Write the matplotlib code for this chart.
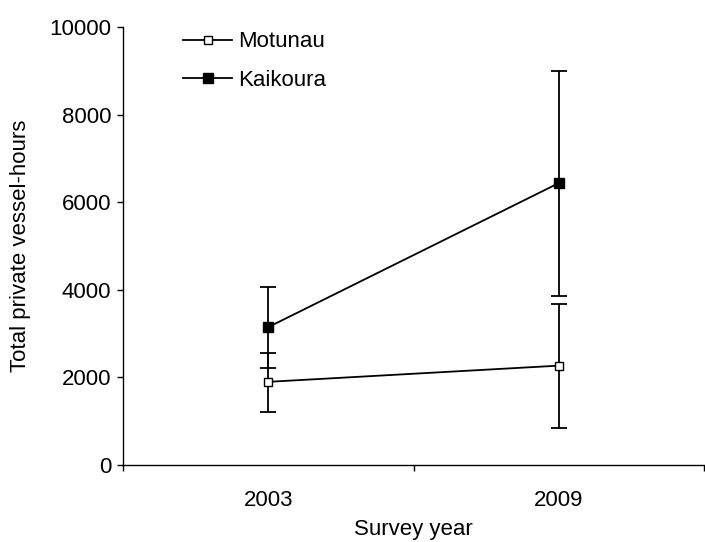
import matplotlib
matplotlib.use('Agg')
import matplotlib.pyplot as plt

plt.rcParams['font.family'] = ['Liberation Sans', 'DejaVu Sans']

years = ['2003', '2009']
motunau = [1900, 2270]
motunau_lo = [1210, 845]
motunau_hi = [2550, 3670]
kaikoura = [3150, 6440]
kaikoura_lo = [2210, 3860]
kaikoura_hi = [4065, 9000]

x = [1, 2]

fig = plt.figure(figsize=(7.05, 5.42), dpi=100)
ax = fig.add_axes([0.1745, 0.142, 0.8245, 0.808])

m_err = [[m - lo for m, lo in zip(motunau, motunau_lo)],
         [hi - m for m, hi in zip(motunau, motunau_hi)]]
k_err = [[k - lo for k, lo in zip(kaikoura, kaikoura_lo)],
         [hi - k for k, hi in zip(kaikoura, kaikoura_hi)]]

# error bars first, lines with markers on top (these also feed the legend)
ax.errorbar(x, motunau, yerr=m_err, fmt='none', ecolor='black',
            capsize=6, elinewidth=1.3, capthick=1.3, zorder=2)
ax.errorbar(x, kaikoura, yerr=k_err, fmt='none', ecolor='black',
            capsize=6, elinewidth=1.3, capthick=1.3, zorder=2)
ax.plot(x, motunau, color='black', lw=1.3, marker='s', ms=6,
        mfc='white', mec='black', mew=1.0, label='Motunau', zorder=3)
ax.plot(x, kaikoura, color='black', lw=1.3, marker='s', ms=7,
        mfc='black', mec='black', label='Kaikoura', zorder=3)

ax.set_xlim(0.5, 2.5)
ax.set_ylim(0, 10000)
ax.set_yticks(range(0, 10001, 2000))
ax.set_xticks([0.5, 1.5, 2.5])
ax.set_xticklabels([])
ax.set_xticks(x, minor=True)
ax.set_xticklabels(years, minor=True)
ax.tick_params(axis='both', which='major', direction='out', length=4.5,
               width=1, labelsize=16, pad=4)
ax.tick_params(axis='x', which='minor', length=0, pad=18, labelsize=16)

for s in ['top', 'right']:
    ax.spines[s].set_visible(False)
for s in ['left', 'bottom']:
    ax.spines[s].set_linewidth(1)

ax.set_ylabel('Total private vessel-hours', fontsize=16, labelpad=13)
ax.set_xlabel('Survey year', fontsize=16, labelpad=6)

ax.legend(loc='upper left', bbox_to_anchor=(0.26, 0.942), frameon=False,
          fontsize=16, handlelength=2.2, handletextpad=0.25, labelspacing=0.8,
          borderpad=0, borderaxespad=0, bbox_transform=fig.transFigure)

fig.savefig('out.png', dpi=100)
